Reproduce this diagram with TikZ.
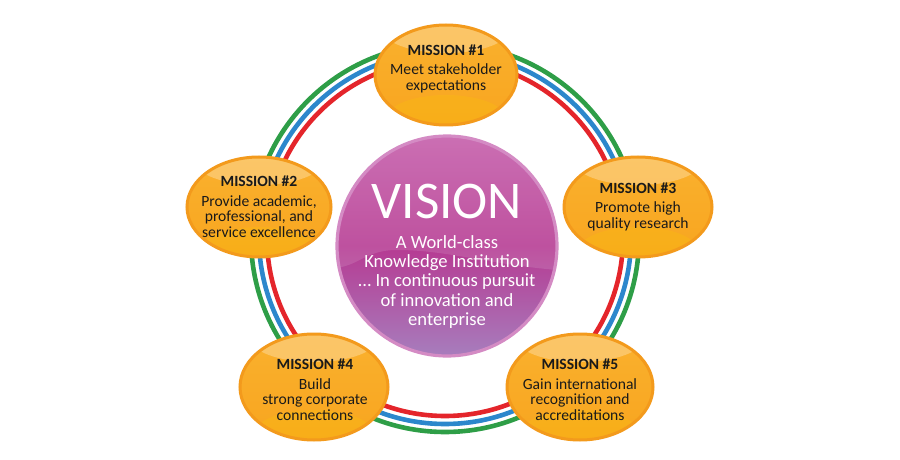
\documentclass[tikz,border=0pt]{standalone}
\usepackage{fontspec}
\setmainfont{Carlito}
\usetikzlibrary{shapes.geometric}
\definecolor{rgreen}{HTML}{2E9E47}
\definecolor{rblue}{HTML}{2C87CC}
\definecolor{rred}{HTML}{E4252B}
\definecolor{oborder}{HTML}{F39A1C}
\definecolor{otop}{HTML}{FAB12E}
\definecolor{obot}{HTML}{F8A51F}
\definecolor{vborder}{HTML}{D48BC4}
\definecolor{vtop}{HTML}{C45BA9}
\definecolor{vmid}{HTML}{B63A92}
\definecolor{vbot}{HTML}{A77DBD}
\definecolor{txt}{HTML}{1A1A1A}
\tikzset{
  ring/.style={line width=2.3pt},
  mission/.style={ellipse, draw=oborder, line width=1.5pt, top color=otop, bottom color=obot,
    inner sep=0pt,
    path picture={
      \fill[white,opacity=0.28] ([yshift=-2pt]path picture bounding box.north) ellipse (32pt and 12pt);
      \fill[yellow!60!orange,opacity=0.25] ([yshift=3pt]path picture bounding box.south) ellipse (30pt and 12pt);
    }},
  mtext/.style={align=center, text=txt, font=\fontsize{7.8}{7.9}\selectfont},
  vision/.style={circle, draw=vborder, line width=1.6pt, inner sep=0pt, minimum size=110pt,
    top color=vtop, bottom color=vbot, middle color=vmid,
    path picture={
      \fill[white,opacity=0.12] (path picture bounding box.north west) -- ([yshift=-66pt]path picture bounding box.north west) .. controls +(12pt,2pt) and +(-15pt,0pt) .. ([xshift=30pt,yshift=-57pt]path picture bounding box.north west) .. controls +(25pt,0pt) and +(-35pt,3pt) .. ([yshift=-67pt]path picture bounding box.north east) -- (path picture bounding box.north east) -- cycle;
    }},
}
\begin{document}
\begin{tikzpicture}[x=0.5pt,y=-0.5pt]
\useasboundingbox (0,0) rectangle (900,460);
\fill[white] (0,0) rectangle (900,460);
\coordinate (c) at (445,238);
\draw[ring, rgreen] (c) circle[radius=97pt];
\draw[ring, rblue] (c) circle[radius=93pt];
\draw[ring, rred] (c) circle[radius=89pt];

\node[vision] (v) at (447,246) {};
\node[text=white, font=\fontsize{26.5}{27}\selectfont] (vt) at (447,201) {VISION};
\node[text=white, align=center, font=\fontsize{9.3}{9.6}\selectfont] (vs) at (447,282)
  {A World-class\\Knowledge Institution\\\ldots{} In continuous pursuit\\of innovation and\\enterprise};

\node[mission, minimum width=71pt, minimum height=50pt] (m1) at (446,75) {};
\node[mission, minimum width=72pt, minimum height=50pt] (m2) at (259,207) {};
\node[mission, minimum width=74pt, minimum height=50pt] (m3) at (638,207) {};
\node[mission, minimum width=74pt, minimum height=53pt] (m4) at (314,387) {};
\node[mission, minimum width=73pt, minimum height=53pt] (m5) at (580,387) {};

\node[mtext] (t1) at (446,69) {\textbf{MISSION \#1}\\[1.8pt]Meet stakeholder\\expectations};
\node[mtext] (t2) at (259,207) {\textbf{MISSION \#2}\\[1.8pt]Provide academic,\\professional, and\\service excellence};
\node[mtext] (t3) at (638,207) {\textbf{MISSION \#3}\\[1.8pt]Promote high\\quality research};
\node[mtext] (t4) at (315,390) {\textbf{MISSION \#4}\\[1.8pt]Build\\strong corporate\\connections};
\node[mtext] (t5) at (580,390) {\textbf{MISSION \#5}\\[1.8pt]Gain international\\recognition and\\accreditations};
\end{tikzpicture}
\end{document}
